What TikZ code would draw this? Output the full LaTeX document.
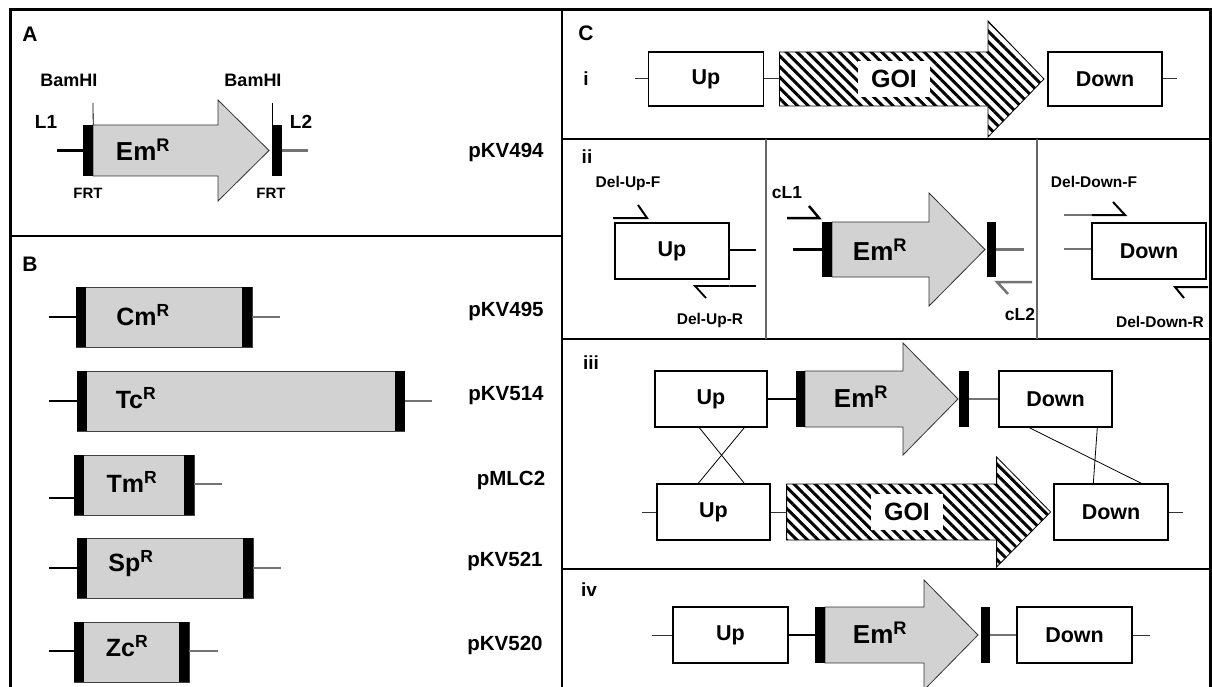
\documentclass[tikz,border=0pt]{standalone}
\usepackage{fontspec}
\setmainfont{Liberation Sans}
\usetikzlibrary{patterns.meta,calc}
\definecolor{genefill}{RGB}{210,210,210}
\definecolor{linkgray}{RGB}{115,115,115}
\begin{document}
\begin{tikzpicture}[x=1pt,y=-1pt,line join=miter,
  fs/.style={font=\bfseries\fontsize{#1}{#1}\selectfont},
  ptitle/.style={fs=21, inner sep=0pt},
  sublab/.style={fs=19, inner sep=0pt},
  tbam/.style={fs=18, inner sep=0pt},
  tL/.style={fs=19, inner sep=0pt},
  tfrt/.style={fs=15, inner sep=0pt},
  tpkv/.style={fs=20.5, inner sep=0pt},
  tprim/.style={fs=15.5, inner sep=0pt},
  emlab/.style={fs=26, inner sep=0pt},
  glab/.style={fs=25, inner sep=0pt},
  goilab/.style={fs=25, fill=white, inner sep=0pt, minimum width=72pt, minimum height=36pt},
  dnabox/.style={draw=black, line width=1.4pt, fill=white, inner sep=0pt, minimum width=#1, minimum height=56pt, fs=21.5},
  genebox/.style={draw=black!75, line width=0.8pt, fill=genefill, inner sep=0pt, minimum width=#1, minimum height=60pt},
  frtbar/.style={fill=black, draw=none, inner sep=0pt, minimum width=10pt, minimum height=#1},
  emar/.style={draw=black!80, line width=0.8pt, fill=genefill},
  goiar/.style={draw=black, line width=0.8pt, pattern={Lines[angle=-45,distance=7.5pt,line width=3pt]}},
  blklink/.style={draw=black, line width=2.5pt},
  graylink/.style={draw=linkgray, line width=2.5pt},
  thinlink/.style={draw=black!80, line width=1pt},
  hair/.style={draw=black, line width=0.8pt},
  divider/.style={draw=black, line width=2.5pt},
  subdiv/.style={draw=black!60, line width=1.5pt}
]
\useasboundingbox (0,0) rectangle (1212,687);
\fill[white] (0,0) rectangle (1212,687);

% ---------- frame ----------
\draw[line width=3pt] (10,700) -- (10,10) -- (1210,10) -- (1210,700);
\draw[divider] (562,10) -- (562,700);
\draw[divider] (10,236) -- (562,236);
\draw[divider] (562,139) -- (1210,139);
\draw[divider] (562,339) -- (1210,339);
\draw[divider] (562,569) -- (1210,569);
\draw[subdiv] (766,139) -- (766,339);
\draw[subdiv] (1037,139) -- (1037,339);

% ---------- Panel A ----------
\node[ptitle] (labA) at (30,34) {A};
\node[tbam] (bam1) at (69,80) {BamHI};
\node[tbam] (bam2) at (253,80) {BamHI};
\node[tL] (L1) at (46,122) {L1};
\node[tL] (L2) at (301,122) {L2};
\draw[emar] (93,125) -- (218,125) -- (218,100) -- (269,150.5) -- (218,201) -- (218,176) -- (93,176) -- cycle;
\node[emlab] (emA) at (143,150) {Em\textsuperscript{R}};
\node[frtbar=51pt] (fA1) at (88,150.5) {};
\node[frtbar=51pt] (fA2) at (277,150.5) {};
\coordinate (aL) at (57,150.5);
\coordinate (aR) at (308,150.5);
\draw[blklink] (aL) -- (fA1.west);
\draw[graylink] (fA2.east) -- (aR);
\coordinate (bA1) at (93,103);
\coordinate (bA2) at (272.5,103);
\draw[hair] (bA1) -- (fA1.north east);
\draw[hair] (bA2) -- (bA2 |- fA2.north);
\node[tfrt] (frt1) at (88,193) {FRT};
\node[tfrt] (frt2) at (271,193) {FRT};
\node[tpkv] (p494) at (506,152) {pKV494};

% ---------- Panel B ----------
\node[ptitle] (labB) at (30,264) {B};
% Cm
\node[genebox=176pt] (cm) at (164,317) {};
\node[frtbar=60pt, anchor=west] (cmL) at (cm.west) {};
\node[frtbar=60pt, anchor=east] (cmR) at (cm.east) {};
\node[glab] (cmT) at (143,315) {Cm\textsuperscript{R}};
\coordinate (cmA) at (49,317); \coordinate (cmB) at (280,317);
\draw[blklink] (cmA) -- (cmL.west);
\draw[graylink] (cmR.east) -- (cmB);
\node[tpkv] (p495) at (506,311) {pKV495};
% Tc
\node[genebox=327pt] (tc) at (241,401) {};
\node[frtbar=60pt, anchor=west] (tcL) at (tc.west) {};
\node[frtbar=60pt, anchor=east] (tcR) at (tc.east) {};
\node[glab] (tcT) at (136,398) {Tc\textsuperscript{R}};
\coordinate (tcA) at (49,401); \coordinate (tcB) at (432,401);
\draw[blklink] (tcA) -- (tcL.west);
\draw[graylink] (tcR.east) -- (tcB);
\node[tpkv] (p514) at (506,396) {pKV514};
% Tm
\node[genebox=120pt] (tm) at (134,485) {};
\node[frtbar=60pt, anchor=west] (tmL) at (tm.west) {};
\node[frtbar=60pt, anchor=east] (tmR) at (tm.east) {};
\node[glab] (tmT) at (132,482) {Tm\textsuperscript{R}};
\coordinate (tmA) at (49,498); \coordinate (tmB) at (222,484);
\draw[blklink] (tmA) -- (tmA -| tmL.west);
\draw[graylink] (tmB -| tmR.east) -- (tmB);
\node[tpkv] (pMLC) at (511,480) {pMLC2};
% Sp
\node[genebox=176pt] (sp) at (165,568) {};
\node[frtbar=60pt, anchor=west] (spL) at (sp.west) {};
\node[frtbar=60pt, anchor=east] (spR) at (sp.east) {};
\node[glab] (spT) at (131,564) {Sp\textsuperscript{R}};
\coordinate (spA) at (49,568); \coordinate (spB) at (281,568);
\draw[blklink] (spA) -- (spL.west);
\draw[graylink] (spR.east) -- (spB);
\node[tpkv] (p521) at (505,561) {pKV521};
% Zc
\node[genebox=115pt] (zc) at (131.5,652) {};
\node[frtbar=60pt, anchor=west] (zcL) at (zc.west) {};
\node[frtbar=60pt, anchor=east] (zcR) at (zc.east) {};
\node[glab] (zcT) at (127,646) {Zc\textsuperscript{R}};
\coordinate (zcA) at (49,651); \coordinate (zcB) at (218,651);
\draw[blklink] (zcA) -- (zcA -| zcL.west);
\draw[graylink] (zcB -| zcR.east) -- (zcB);
\node[tpkv] (p520) at (505,645) {pKV520};

% ---------- Panel C i ----------
\node[ptitle] (labC) at (586,33) {C};
\node[sublab] (li) at (586,79) {i};
\draw[goiar] (779.5,52) -- (988,52) -- (988,21) -- (1044,79) -- (988,137) -- (988,106) -- (779.5,106) -- cycle;
\node[goilab] (goi1) at (894,79) {GOI};
\node[dnabox=115pt, minimum height=54pt] (up1) at (706,79) {Up};
\node[dnabox=114pt, minimum height=54pt] (dn1) at (1105,79) {Down};
\coordinate (c1a) at (635,79); \coordinate (c1g) at (779.5,79); \coordinate (c1b) at (1177,79);
\draw[thinlink] (c1a) -- (up1.west);
\draw[thinlink] (up1.east) -- (c1g);
\draw[thinlink] (dn1.east) -- (c1b);

% ---------- Panel C ii ----------
\node[sublab] (lii) at (587,157) {ii};
\node[tprim] (dupF) at (628,183) {Del-Up-F};
\node[dnabox=114pt] (up2) at (672,251) {Up};
\coordinate (pF1) at (638,205); \coordinate (pF2) at (647,218); \coordinate (pF3) at (613,218);
\draw[line width=2pt] (pF1) -- (pF2) -- (pF3);
\coordinate (up2r) at (756,250);
\draw[blklink] (up2.east |- up2r) -- (up2r);
\coordinate (pR1) at (706,298); \coordinate (pR2) at (695,286); \coordinate (pR3) at (756,286);
\draw[line width=1.8pt] (pR1) -- (pR2) -- (pR2 -| up2.east);
\draw[blklink] (pR2 -| up2.east) -- (pR3);
\node[tprim] (dupR) at (710,320) {Del-Up-R};
% middle
\node[tprim, fs=17.5] (cL1) at (787,193) {cL1};
\coordinate (q1) at (809,206); \coordinate (q2) at (819,218); \coordinate (q3) at (787,218);
\draw[line width=2.5pt] (q1) -- (q2) -- (q3);
\draw[emar] (832,222) -- (929,222) -- (929,193) -- (985,249.5) -- (929,306) -- (929,277) -- (832,277) -- cycle;
\node[emlab] (em2) at (880,250) {Em\textsuperscript{R}};
\node[frtbar=55pt] (f21) at (827,249.5) {};
\node[frtbar=55pt, minimum width=9pt] (f22) at (991.5,249.5) {};
\coordinate (m2a) at (793,249.5); \coordinate (m2b) at (1024,249.5);
\draw[blklink] (m2a) -- (f21.west);
\draw[graylink] (f22.east) -- (m2b);
\coordinate (r1) at (1008,294); \coordinate (r2) at (997,282); \coordinate (r3) at (1032,282);
\draw[graylink] (r1) -- (r2) -- (r3);
\node[tprim, fs=17.5] (cL2) at (1020,314) {cL2};
% right
\node[tprim] (ddF) at (1094,182) {Del-Down-F};
\node[dnabox=114pt] (dn2) at (1149,251) {Down};
\coordinate (s0) at (1064,215); \coordinate (s1) at (1092,215); \coordinate (s2) at (1125,215); \coordinate (s3) at (1113,202);
\draw[graylink] (s0) -- (s1);
\draw[line width=2pt] (s1) -- (s2) -- (s3);
\coordinate (dn2l) at (1064,249);
\draw[graylink] (dn2l) -- (dn2l -| dn2.west);
\coordinate (t1) at (1184,298); \coordinate (t2) at (1175,287); \coordinate (t3) at (1208,287);
\draw[line width=2pt] (t1) -- (t2) -- (t3);
\node[tprim] (ddR) at (1160,322) {Del-Down-R};

% ---------- Panel C iii ----------
\node[sublab] (liii) at (591,363) {iii};
\draw[emar] (805,371) -- (903,371) -- (903,343) -- (958,399) -- (903,455) -- (903,427) -- (805,427) -- cycle;
\node[emlab] (em3) at (861,397) {Em\textsuperscript{R}};
\node[dnabox=112pt] (up3) at (711,399) {Up};
\node[frtbar=56pt, minimum width=9pt] (f31) at (800.5,399) {};
\node[frtbar=56pt] (f32) at (964,399) {};
\node[dnabox=113pt] (dn3) at (1055.5,399) {Down};
\draw[blklink] (up3.east) -- (f31.west);
\draw[graylink] (f32.east) -- (dn3.west);
% bottom row
\draw[goiar] (786.6,484) -- (996.6,484) -- (996.6,457) -- (1050.6,512) -- (996.6,567) -- (996.6,540) -- (786.6,540) -- cycle;
\node[goilab] (goi3) at (907,512) {GOI};
\node[dnabox=113pt] (up4) at (713.5,512) {Up};
\node[dnabox=114pt] (dn4) at (1111,512) {Down};
\coordinate (c3a) at (642,512); \coordinate (c3g) at (786.6,512); \coordinate (c3b) at (1183,512);
\draw[thinlink] (c3a) -- (up4.west);
\draw[thinlink] (up4.east) -- (c3g);
\draw[thinlink] (dn4.east) -- (c3b);
% crossovers
\draw[hair] ($(up3.south west)+(45,0)$) -- ($(up4.north west)+(88,0)$);
\draw[hair] ($(up3.south west)+(90,0)$) -- ($(up4.north west)+(42,0)$);
\draw[hair] ($(dn3.south west)+(31,0)$) -- ($(dn4.north west)+(88,0)$);
\draw[hair] ($(dn3.south west)+(99,0)$) -- ($(dn4.north west)+(40,0)$);

% ---------- Panel C iv ----------
\node[sublab] (liv) at (589,590) {iv};
\draw[emar] (825,607) -- (924,607) -- (924,580) -- (978,635) -- (924,690) -- (924,663) -- (825,663) -- cycle;
\node[emlab] (em4) at (880,633) {Em\textsuperscript{R}};
\node[dnabox=115pt] (up5) at (730.5,635) {Up};
\node[frtbar=56pt] (f41) at (819.7,635) {};
\node[frtbar=56pt, minimum width=9pt] (f42) at (985.5,635) {};
\node[dnabox=115pt] (dn5) at (1074.5,635) {Down};
\coordinate (c4a) at (652,635); \coordinate (c4b) at (1150,635);
\draw[thinlink] (c4a) -- (up5.west);
\draw[blklink] (up5.east) -- (f41.west);
\draw[graylink] (f42.east) -- (dn5.west);
\draw[thinlink] (dn5.east) -- (c4b);
\end{tikzpicture}
\end{document}
